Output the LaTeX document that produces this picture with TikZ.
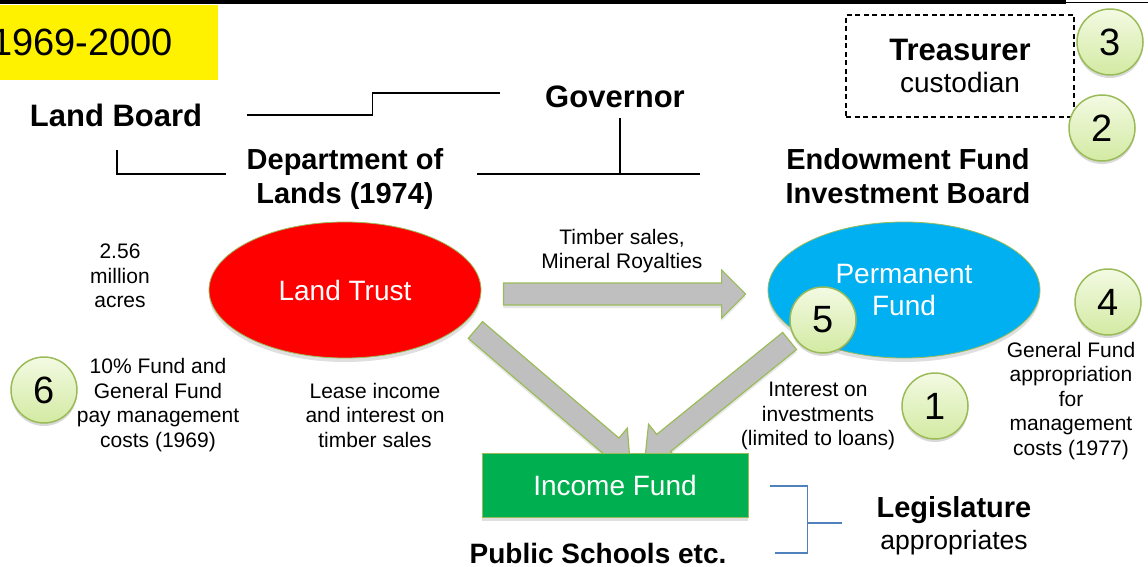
\documentclass[tikz,border=0pt]{standalone}
\usepackage{fontspec}
\setmainfont{Liberation Sans}
\usetikzlibrary{calc,shapes.geometric,shadows}

\definecolor{marcoverde}{HTML}{9BBB59}
\definecolor{gris}{HTML}{BFBFBF}
\definecolor{azul}{HTML}{00B0F0}
\definecolor{verde}{HTML}{00B050}
\definecolor{azulraya}{HTML}{4F81BD}
\definecolor{circarriba}{HTML}{F3FAE3}
\definecolor{circabajo}{HTML}{D3EAA2}

% flecha gruesa de #1 a #2
\newcommand{\flechagruesa}[2]{%
  \coordinate (fbase) at ($(#2)!24pt!(#1)$);
  \draw[fatarrow] ($(#1)!11pt!90:(#2)$) -- ($(fbase)!11pt!90:(#2)$)
    -- ($(fbase)!24pt!90:(#2)$) -- (#2) -- ($(fbase)!24pt!-90:(#2)$)
    -- ($(fbase)!11pt!-90:(#2)$) -- ($(#1)!11pt!-90:(#2)$) -- cycle;}

\begin{document}
\begin{tikzpicture}[x=1pt, y=-1pt,
  heading/.style={font=\bfseries\fontsize{#1}{34}\selectfont, align=center, inner sep=0pt},
  heading/.default=29,
  note/.style={font=\fontsize{21}{24.5}\selectfont, align=center, inner sep=0pt},
  fund/.style={ellipse, draw=marcoverde, line width=0.8pt, minimum width=272pt,
    minimum height=136pt, text=white, align=center, font=\fontsize{28}{32}\selectfont,
    drop shadow={opacity=0.25, shadow xshift=0pt, shadow yshift=-4pt}},
  numcircle/.style={circle, draw=marcoverde, line width=1.5pt, minimum size=66pt,
    inner sep=0pt, top color=circarriba, bottom color=circabajo,
    font=\fontsize{38}{38}\selectfont,
    drop shadow={opacity=0.3, shadow xshift=0pt, shadow yshift=-3pt}},
  fatarrow/.style={draw=marcoverde, line width=1.2pt, fill=gris,
    drop shadow={opacity=0.2, shadow xshift=0pt, shadow yshift=-3pt}}]
  \useasboundingbox (0,0) rectangle (1148,567);

  % Linea superior y periodo
  \draw[line width=4pt] (0,2) -- (1066,2);
  \draw[line width=0.8pt] (1066,2) -- (1148,2);
  \fill[yellow] (0,5) rectangle (218,80);
  \node[anchor=east, inner sep=0pt, font=\fontsize{38}{38}\selectfont] (period) at (173,42) {1969-2000};

  % Organismos
  \node[heading=31] (board) at (116,115) {Land Board};
  \node[heading=31] (gov) at (615,97) {Governor};
  \node[heading] (dept) at (345,179) {Department of\\Lands (1974)};
  \node[heading] (invest) at (908,176) {Endowment Fund\\Investment Board};
  \node[draw, dash pattern=on 5pt off 3.5pt, line width=1.3pt, minimum width=228pt,
    minimum height=102pt, align=center, font=\fontsize{28}{32}\selectfont] (treas) at (960,66)
    {{\bfseries\fontsize{31}{32}\selectfont Treasurer}\\custodian};

  % Lineas de mando
  \draw[line width=1.2pt] ($(board.east)+(45,0)$) -- ++(125,0) |- ($(gov.west)+(-45,-4)$);
  \draw[line width=1.2pt] ($(board.south)+(1,23)$) |- ($(dept.west)+(-21,-5)$);
  \draw[line width=1.2pt] ($(dept.east)+(34,-5)$) -- ($(invest.west)+(-85,-2)$);
  \draw[line width=1.2pt] ($(gov.south)+(5,10)$) -- ++(0,55);

  % Fondos
  \node[fund, fill=red] (trust) at (345,290) {Land Trust};
  \node[fund, fill=azul] (perm) at (904,290) {Permanent\\Fund};

  % Flujos de dinero
  \coordinate (h1) at ($(trust.east)+(22,4)$);
  \coordinate (h2) at ($(perm.west)+(-22,4)$);
  \flechagruesa{h1}{h2}
  \coordinate (income-in1) at (630,462);
  \coordinate (income-in2) at (645,458);
  \coordinate (d1) at ($(trust.east)+(-6,40)$);
  \coordinate (d2) at ($(perm.west)+(22,51)$);
  \flechagruesa{d1}{income-in1}
  \flechagruesa{d2}{income-in2}

  % Fondo de ingresos
  \node[draw=marcoverde, line width=0.8pt, fill=verde, minimum width=266pt, minimum height=64pt,
    text=white, font=\fontsize{28}{32}\selectfont,
    drop shadow={opacity=0.25, shadow xshift=0pt, shadow yshift=-4pt}] (income) at (615,485) {Income Fund};
  \node[heading=28] (schools) at (598,553) {Public Schools etc.};

  % Legislatura
  \draw[azulraya, line width=1.5pt] ($(income.east)+(22,1)$) -| ++(37,67) -- ++(-32,0);
  \draw[azulraya, line width=2pt] (807,523) -- (842,523);
  \node[align=center, inner sep=0pt, font=\fontsize{26.5}{32}\selectfont] (legis) at (954,526)
    {{\bfseries\fontsize{29}{32}\selectfont Legislature}\\appropriates};

  % Notas
  \node[note] (acres) at (120,276) {2.56\\million\\acres};
  \node[note] (mgmt69) at (158,405) {10\% Fund and\\General Fund\\pay management\\costs (1969)};
  \node[note] (lease) at (375,415) {Lease income\\and interest on\\timber sales};
  \node[note] (timber) at (622,251) {Timber sales,\\Mineral Royalties};
  \node[note] (interest) at (818,416) {Interest on\\investments\\(limited to loans)};
  \node[note] (mgmt77) at (1071,401) {General Fund\\appropriation\\for\\management\\costs (1977)};

  % Numeros
  \node[numcircle] (n3) at (1110,42) {3};
  \node[numcircle] (n2) at (1102,128) {2};
  \node[numcircle] (n5) at (823,320) {5};
  \node[numcircle] (n4) at (1108,302) {4};
  \node[numcircle] (n1) at (935,406) {1};
  \node[numcircle] (n6) at (44,390) {6};
\end{tikzpicture}
\end{document}
